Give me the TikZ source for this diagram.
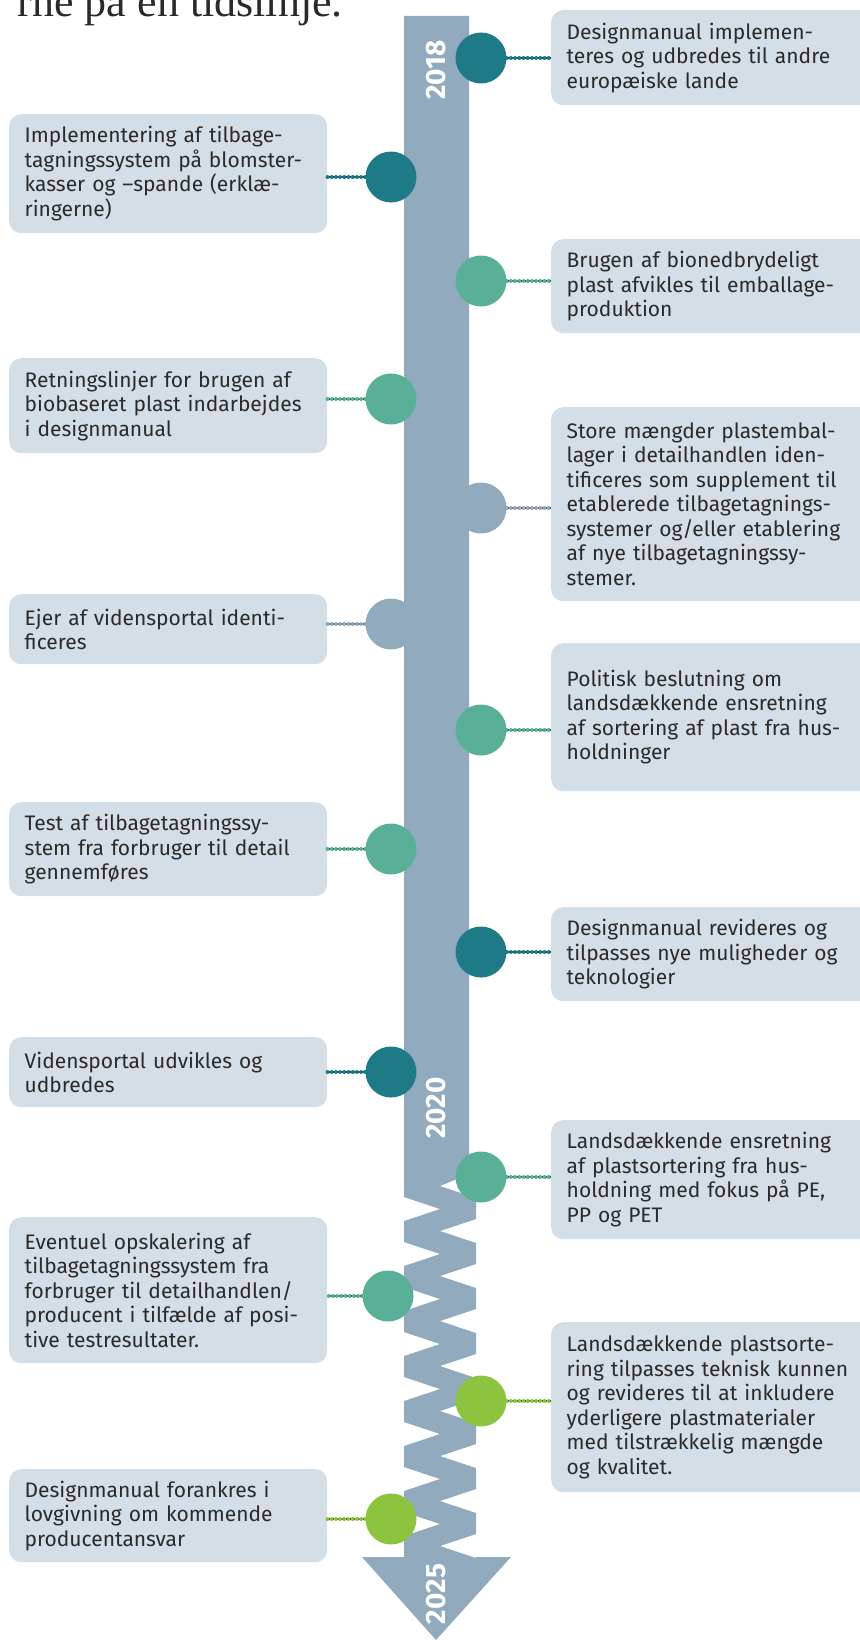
\documentclass[tikz,border=0pt]{standalone}
\usepackage{fontspec}
\setmainfont{Fira Sans}
\newfontfamily\titlefont{Liberation Serif}
\usetikzlibrary{positioning}

\definecolor{barcol}{HTML}{91AABE}
\definecolor{boxcol}{HTML}{D3DEE6}
\definecolor{tealdark}{HTML}{1F7A88}
\definecolor{tealmid}{HTML}{5AAF97}
\definecolor{limecol}{HTML}{8CC43F}
\definecolor{textcol}{HTML}{2A2A2A}

\begin{document}
\begin{tikzpicture}[x=1bp, y=-1bp]
\tikzstyle{lbox}=[rectangle, rounded corners=12bp, fill=boxcol, text=textcol, align=left, text width=287bp, inner xsep=15.5bp, inner ysep=0pt, anchor=north west, font=\fontsize{21bp}{24.5bp}\selectfont];
\tikzstyle{rbox}=[lbox, text width=290bp];
\tikzstyle{dot}=[circle, minimum size=51bp, inner sep=0pt];
\tikzstyle{year}=[rotate=90, text=white, inner sep=0pt, font=\fontsize{28bp}{28bp}\selectfont\bfseries];
\tikzstyle{beads}=[line width=4bp, dash pattern=on 0pt off 4.2bp, line cap=round, preaction={draw, line width=1.6bp, solid}];

\useasboundingbox (0,0) rectangle (859,1640);

\node [anchor=base east, inner sep=0pt, text=textcol, font=\titlefont\fontsize{44bp}{44bp}\selectfont] at (343,17) (title) {rne på en tidslinje.};

\fill[barcol] (404,16) -- (469,16) -- (469,1174) -- (440,1186) -- (476,1198)
  \foreach \k in {1,...,8} { -- (476,1174+45*\k) -- (440,1186+45*\k) -- (476,1198+45*\k) }
  -- (476,1557) -- (511,1557) -- (436,1640) -- (362,1557) -- (404,1557)
  \foreach \k in {7,...,0} { -- (404,1221+45*\k) -- (440,1209+45*\k) -- (404,1197+45*\k) }
  -- cycle;

\node [year] at (436,70) (y2018) {2018};
\node [year] at (436,1108) (y2020) {2020};
\node [year] at (436,1594) (y2025) {2025};

\node [rbox, minimum height=95bp] at (551,10) (r1) {Designmanual implemen-\\teres og udbredes til andre\\europæiske lande};
\node [rbox, minimum height=94bp] at (551,239) (r2) {Brugen af bionedbrydeligt\\plast afvikles til emballage-\\produktion};
\node [rbox, minimum height=194bp] at (551,407) (r3) {Store mængder plastembal-\\lager i detailhandlen iden-\\tificeres som supplement til\\etablerede tilbagetagnings-\\systemer og/eller etablering\\af nye tilbagetagningssy-\\stemer.};
\node [rbox, minimum height=148bp] at (551,643) (r4) {Politisk beslutning om\\landsdækkende ensretning\\af sortering af plast fra hus-\\holdninger};
\node [rbox, minimum height=94bp] at (551,907) (r5) {Designmanual revideres og\\tilpasses nye muligheder og\\teknologier};
\node [rbox, minimum height=119bp] at (551,1120) (r6) {Landsdækkende ensretning\\af plastsortering fra hus-\\holdning med fokus på PE,\\PP og PET};
\node [rbox, minimum height=170bp] at (551,1322) (r7) {Landsdækkende plastsorte-\\ring tilpasses teknisk kunnen\\og revideres til at inkludere\\yderligere plastmaterialer\\med tilstrækkelig mængde\\og kvalitet.};

\node [lbox, minimum height=119bp] at (9,114) (A) {Implementering af tilbage-\\tagningssystem på blomster-\\kasser og –spande (erklæ-\\ringerne)};
\node [lbox, minimum height=95bp] at (9,358) (B) {Retningslinjer for brugen af\\biobaseret plast indarbejdes\\i designmanual};
\node [lbox, minimum height=70bp] at (9,594) (C) {Ejer af vidensportal identi-\\ficeres};
\node [lbox, minimum height=94bp] at (9,802) (D) {Test af tilbagetagningssy-\\stem fra forbruger til detail\\gennemføres};
\node [lbox, minimum height=70bp] at (9,1037) (E) {Vidensportal udvikles og\\udbredes};
\node [lbox, minimum height=146bp] at (9,1217) (F) {Eventuel opskalering af\\tilbagetagningssystem fra\\forbruger til detailhandlen/\\producent i tilfælde af posi-\\tive testresultater.};
\node [lbox, minimum height=93bp] at (9,1469) (G) {Designmanual forankres i\\lovgivning om kommende\\producentansvar};

\node [dot, fill=tealdark] at (481,58) (c1) {};
\node [dot, fill=tealmid] at (481,281) (c2) {};
\node [dot, fill=barcol] at (481,508) (c3) {};
\node [dot, fill=tealmid] at (481,730) (c4) {};
\node [dot, fill=tealdark] at (481,952) (c5) {};
\node [dot, fill=tealmid] at (481,1177) (c6) {};
\node [dot, fill=limecol] at (481,1401) (c7) {};

\node [dot, fill=tealdark] at (391,177) (cA) {};
\node [dot, fill=tealmid] at (391,399) (cB) {};
\node [dot, fill=barcol] at (391,624) (cC) {};
\node [dot, fill=tealmid] at (391,849) (cD) {};
\node [dot, fill=tealdark] at (391,1072) (cE) {};
\node [dot, fill=tealmid] at (388,1296) (cF) {};
\node [dot, fill=limecol] at (391,1519) (cG) {};

\draw[beads, tealdark] (c1) -- (c1 -| r1.west);
\draw[beads, tealmid] (c2) -- (c2 -| r2.west);
\draw[beads, barcol] (c3) -- (c3 -| r3.west);
\draw[beads, tealmid] (c4) -- (c4 -| r4.west);
\draw[beads, tealdark] (c5) -- (c5 -| r5.west);
\draw[beads, tealmid] (c6) -- (c6 -| r6.west);
\draw[beads, limecol] (c7) -- (c7 -| r7.west);

\draw[beads, tealdark] (cA) -- (cA -| A.east);
\draw[beads, tealmid] (cB) -- (cB -| B.east);
\draw[beads, barcol] (cC) -- (cC -| C.east);
\draw[beads, tealmid] (cD) -- (cD -| D.east);
\draw[beads, tealdark] (cE) -- (cE -| E.east);
\draw[beads, tealmid] (cF) -- (cF -| F.east);
\draw[beads, limecol] (cG) -- (cG -| G.east);

\end{tikzpicture}
\end{document}
